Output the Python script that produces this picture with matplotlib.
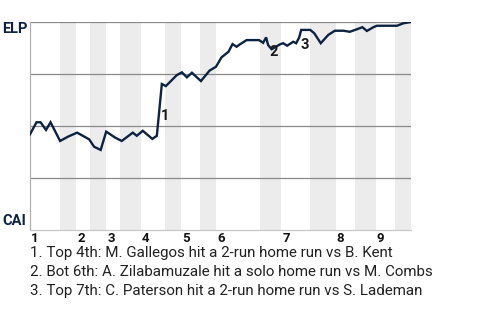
import matplotlib
matplotlib.use("Agg")
import matplotlib.pyplot as plt

# Half-inning boundaries (plate-appearance units)
half_bounds = [0, 6.0, 9.2, 12.0, 15.2, 18.0, 22.1, 26.9, 30.1, 33.9, 37.1,
               45.9, 50.1, 55.9, 61.0, 64.8, 69.0, 72.8, 76.0]
inning_labels = ["1", "2", "3", "4", "5", "6", "7", "8", "9"]

# Win probability for ELP
wp_x = [0, 1.3, 2.1, 3.2, 4.1, 6.0, 7.6, 9.4, 10.6, 11.8, 12.8, 14.1, 15.2,
        17.0, 18.3, 20.5, 21.3, 22.5, 24.4, 25.3, 26.3, 27.1, 29.3, 30.3,
        31.3, 32.3, 34.1, 35.8, 37.1, 38.2, 39.6, 40.4, 41.2, 41.9, 43.2,
        45.7, 46.5, 47.1, 47.5, 48.2, 49.9, 50.5, 51.3, 52.5, 53.1, 53.7,
        54.1, 55.9, 56.7, 58.0, 59.5, 60.8, 62.5, 63.8, 65.2, 66.3, 67.2,
        68.5, 69.2, 73.2, 74.5, 76.0]
wp_y = [0.460, 0.518, 0.518, 0.481, 0.518, 0.428, 0.449, 0.468, 0.452, 0.436,
        0.400, 0.385, 0.473, 0.444, 0.428, 0.468, 0.453, 0.477, 0.438, 0.453,
        0.702, 0.692, 0.745, 0.758, 0.734, 0.756, 0.716, 0.766, 0.785, 0.830,
        0.857, 0.894, 0.881, 0.893, 0.913, 0.913, 0.900, 0.926, 0.889, 0.869,
        0.893, 0.898, 0.886, 0.905, 0.898, 0.926, 0.962, 0.962, 0.946, 0.898,
        0.938, 0.958, 0.958, 0.953, 0.965, 0.975, 0.957, 0.975, 0.982, 0.982,
        0.994, 1.000]

ann_labels = ["1", "2", "3"]
ann_x = [26.9, 48.7, 54.8]
ann_y = [0.546, 0.857, 0.890]

notes = [
    "1. Top 4th: M. Gallegos hit a 2-run home run vs B. Kent",
    "2. Bot 6th: A. Zilabamuzale hit a solo home run vs M. Combs",
    "3. Top 7th: C. Paterson hit a 2-run home run vs S. Lademan",
]
team_top, team_bottom = "ELP", "CAI"

navy = "#0d2240"
fig = plt.figure(figsize=(4.8, 3.2), dpi=100)
ax = fig.add_axes([30/480, 1-230/320, 381/480, 208/320])
ax.set_xlim(half_bounds[0], half_bounds[-1])
ax.set_ylim(0, 1)

for i in range(1, len(half_bounds) - 1, 2):
    ax.axvspan(half_bounds[i], half_bounds[i+1], color="#ececec", lw=0, zorder=0)

for g in [0.25, 0.5, 0.75, 1.0]:
    ax.axhline(g, color="#8a8a8a", lw=0.9, zorder=1)

for s in ["top", "right"]:
    ax.spines[s].set_visible(False)
ax.spines["left"].set_color("#b0b0b0")
ax.spines["bottom"].set_color("#c8c8c8")
ax.spines["left"].set_linewidth(0.9)
ax.spines["bottom"].set_linewidth(0.9)

ax.plot(wp_x, wp_y, color=navy, lw=1.7, zorder=3, solid_joinstyle="miter")

for lab, x, y in zip(ann_labels, ann_x, ann_y):
    ax.text(x, y, lab, fontsize=10.5, fontweight="bold", color="#1a1a1a",
            family="Roboto", ha="center", va="center", zorder=4)

ax.set_xticks([])
ax.set_yticks([])

for lab, x in zip(inning_labels, half_bounds[0::2]):
    ax.text(x + 0.2, -0.04, lab, fontsize=9.5, fontweight="bold", color="#111111",
            family="Roboto", ha="left", va="center", transform=ax.get_xaxis_transform())

fig.text(2/480, 1-29/320, team_top, fontsize=10.5, fontweight="bold", color=navy,
         family="Roboto", ha="left", va="center")
fig.text(2/480, 1-221/320, team_bottom, fontsize=10.5, fontweight="bold", color=navy,
         family="Roboto", ha="left", va="center")

for i, t in enumerate(notes):
    fig.text(30/480, 1-(253.3 + 19*i)/320, t, fontsize=10.9, color="#222222",
             family="Roboto", ha="left", va="center")

fig.savefig("out.png", dpi=100)
